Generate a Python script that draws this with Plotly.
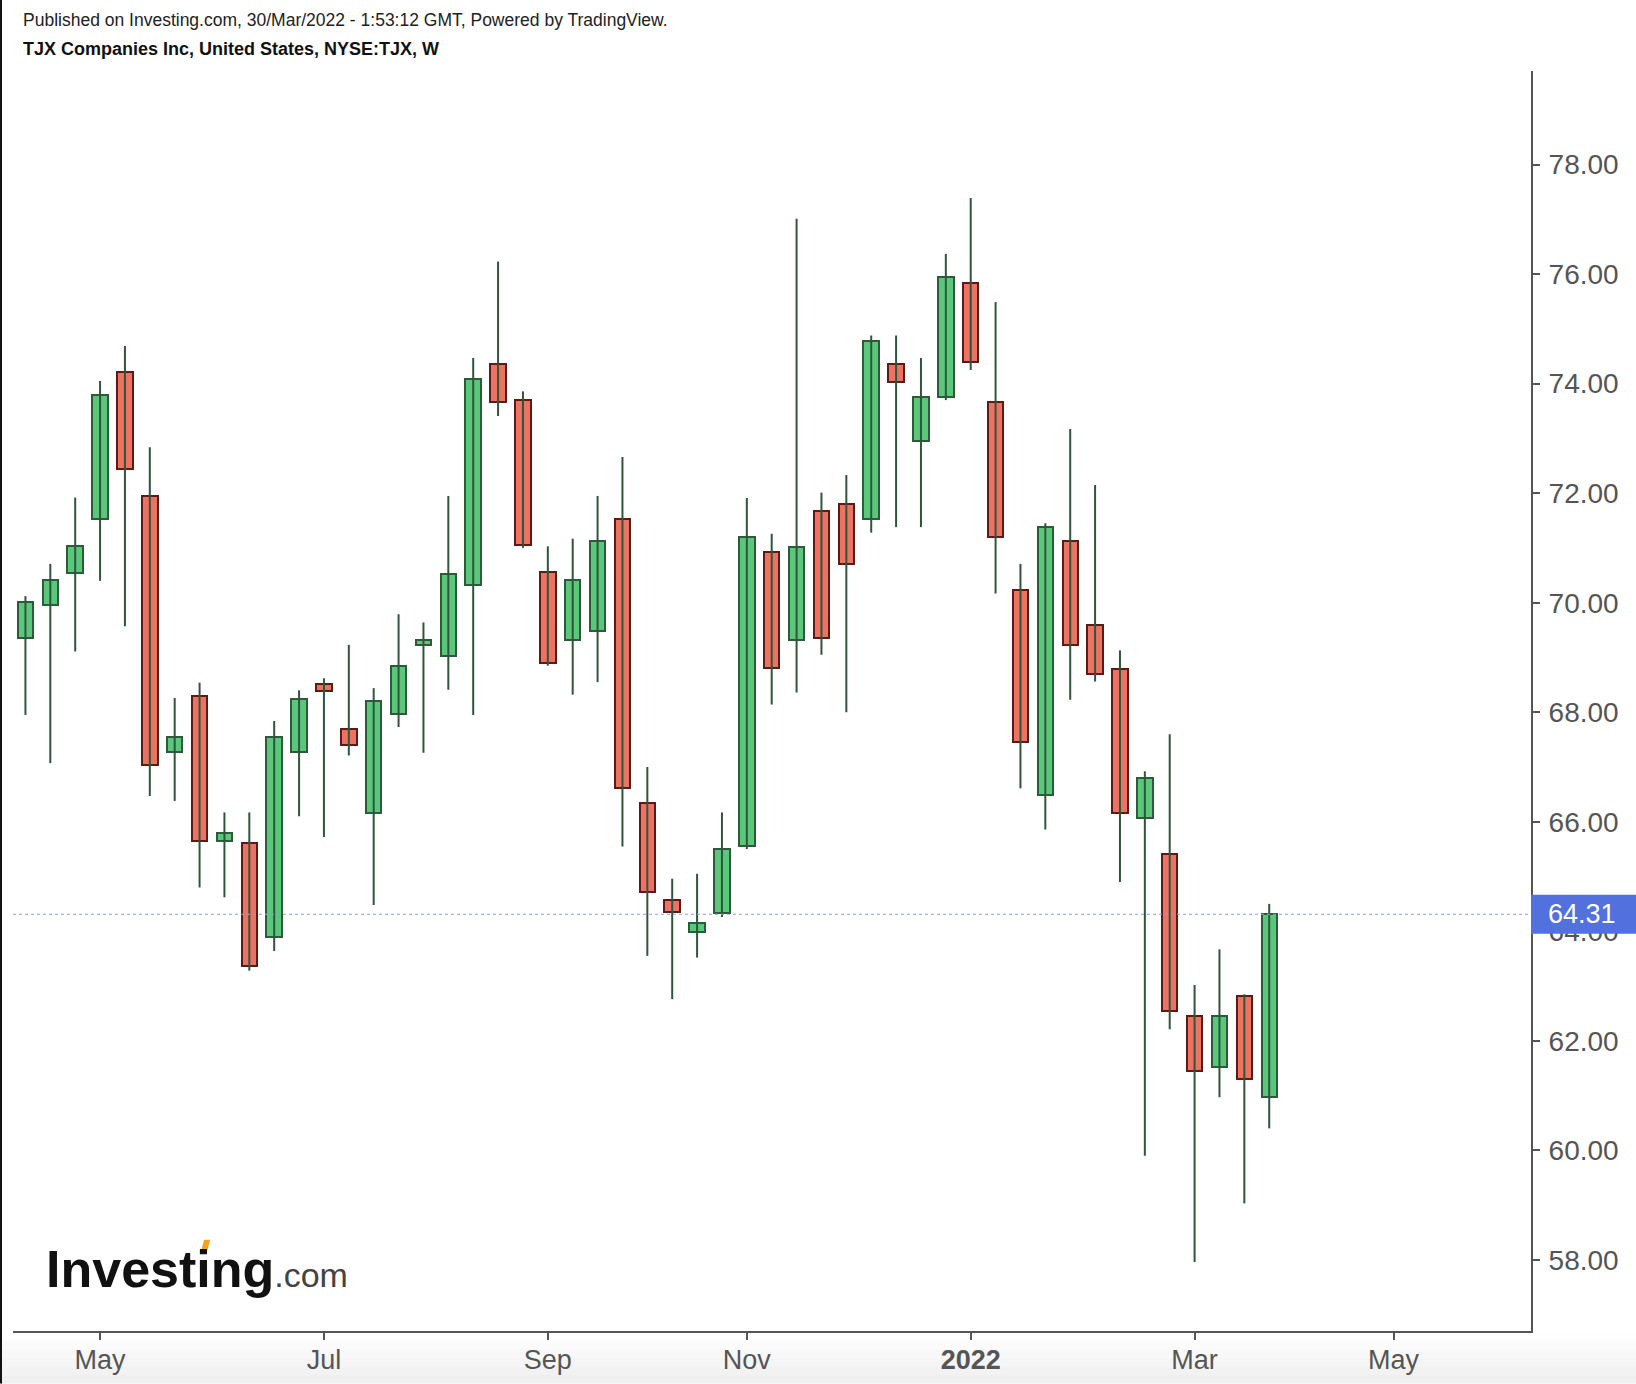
import pandas as pd
import plotly.graph_objects as go

# ---- data (weekly bars, NYSE:TJX) ----
week_start = pd.date_range("2021-04-12", periods=51, freq="7D")
open_ = [69.35, 69.95, 70.55, 71.53, 74.22, 71.95, 67.27, 68.30, 65.65, 65.61,
         63.89, 67.27, 68.52, 67.70, 66.16, 67.96, 69.22, 69.03, 70.32, 74.36,
         73.70, 70.56, 69.31, 69.48, 71.53, 66.34, 64.58, 63.99, 64.34, 65.55,
         70.93, 69.31, 71.67, 71.81, 71.53, 74.36, 72.96, 73.75, 75.84, 73.67,
         70.23, 66.48, 71.12, 69.59, 68.79, 66.07, 65.41, 62.45, 61.53, 62.82,
         60.98]
high = [70.12, 70.71, 71.92, 74.05, 74.69, 72.84, 68.26, 68.54, 66.17, 66.17,
        67.84, 68.40, 68.62, 69.23, 68.44, 69.79, 69.64, 71.95, 74.47, 76.23,
        73.86, 71.03, 71.17, 71.95, 72.66, 67.00, 64.96, 65.05, 66.17, 71.91,
        71.26, 77.01, 72.01, 72.33, 74.88, 74.88, 74.47, 76.37, 77.39, 75.49,
        70.71, 71.45, 73.17, 72.15, 69.13, 66.92, 67.60, 63.02, 63.67, 62.85,
        64.50]
low = [67.95, 67.07, 69.11, 70.40, 69.57, 66.47, 66.38, 64.80, 64.62, 63.28,
       63.64, 66.10, 65.72, 67.21, 64.48, 67.73, 67.26, 68.41, 67.95, 73.41,
       71.00, 68.85, 68.32, 68.55, 65.55, 63.55, 62.76, 63.52, 64.26, 65.50,
       68.14, 68.36, 69.05, 68.00, 71.28, 71.38, 71.38, 73.70, 74.25, 70.17,
       66.61, 65.86, 68.23, 68.56, 64.90, 59.90, 62.21, 57.96, 60.97, 59.03,
       60.40]
close = [70.01, 70.42, 71.03, 73.80, 72.45, 67.04, 67.55, 65.65, 65.79, 63.37,
         67.55, 68.24, 68.38, 67.40, 68.20, 68.85, 69.32, 70.52, 74.09, 73.66,
         71.06, 68.89, 70.42, 71.12, 66.61, 64.71, 64.35, 64.16, 65.51, 71.20,
         68.80, 71.02, 69.35, 70.70, 74.78, 74.03, 73.76, 75.94, 74.40, 71.20,
         67.46, 71.39, 69.22, 68.70, 66.16, 66.80, 62.55, 61.44, 62.45, 61.30,
         64.31]
last_price = 64.31

x_tick_dates = ["2021-05-03", "2021-07-05", "2021-09-06", "2021-11-01",
                "2022-01-03", "2022-03-07", "2022-05-02"]
x_tick_text = ["May", "Jul", "Sep", "Nov", "<b>2022</b>", "Mar", "May"]
y_tick_vals = [58, 60, 62, 64, 66, 68, 70, 72, 74, 76, 78]

# ---- styles ----
UP_FILL, UP_LINE = "#5bc77a", "#2d5a3a"
DN_FILL, DN_LINE = "#ec7264", "#5a1c17"
WICK = "#2f553b"
AXIS = "#555555"
FONT = "Liberation Sans, Arial, sans-serif"

# plot area in pixels
L, R, T, B = 13, 1530.6, 71, 1331.4
W_FIG, H_FIG = 1636, 1384


def px_x(px):
    return (px - L) / (R - L)


def px_y(py):
    return (B - py) / (B - T)


wx, wy = [], []
for d, h, lo in zip(week_start, high, low):
    wx += [d, d, None]
    wy += [lo, h, None]

is_up = [c >= o for o, c in zip(open_, close)]
base = [min(o, c) for o, c in zip(open_, close)]
size = [abs(c - o) for o, c in zip(open_, close)]

fig = go.Figure()
fig.add_trace(go.Scatter(x=wx, y=wy, mode="lines",
                         line=dict(color=WICK, width=2), hoverinfo="skip"))
fig.add_trace(go.Bar(
    x=week_start, y=size, base=base,
    width=0.62 * 7 * 86400000,
    marker=dict(color=[UP_FILL if u else DN_FILL for u in is_up],
                line=dict(color=[UP_LINE if u else DN_LINE for u in is_up], width=2)),
))

fig.update_layout(
    width=W_FIG, height=H_FIG,
    margin=dict(l=L, r=W_FIG - R, t=T, b=H_FIG - B, pad=0, autoexpand=False),
    paper_bgcolor="white", plot_bgcolor="white",
    showlegend=False, bargap=0,
    font=dict(family=FONT, color=AXIS),
)

fig.update_xaxes(
    type="date", automargin=False,
    range=["2021-04-08 12:00", "2022-06-09 16:00"],
    tickvals=x_tick_dates, ticktext=x_tick_text,
    showgrid=False, zeroline=False,
    showline=True, linecolor=AXIS, linewidth=2,
    ticks="outside", ticklen=7, tickwidth=1.5, tickcolor=AXIS,
    tickfont=dict(size=27, color=AXIS, family=FONT),
    ticklabelstandoff=-3,
)
fig.update_yaxes(
    side="right", automargin=False,
    range=[56.70, 79.71],
    tickvals=y_tick_vals, tickformat=".2f",
    showgrid=False, zeroline=False,
    showline=True, linecolor=AXIS, linewidth=2,
    ticks="outside", ticklen=7, tickwidth=1.5, tickcolor=AXIS,
    tickfont=dict(size=28, color=AXIS, family=FONT),
    ticklabelstandoff=3,
)

shapes = []
# light gradient footer under the time axis
grad = ["#fefefe", "#fbfbfb", "#f8f8f8", "#f5f5f5", "#f2f2f2", "#f0f0f0"]
band = (H_FIG - (B + 1)) / len(grad)
for i, col in enumerate(grad):
    shapes.append(dict(type="rect", xref="paper", yref="paper",
                       x0=px_x(0), x1=px_x(W_FIG),
                       y0=px_y(B + 1 + band * (i + 1)), y1=px_y(B + 1 + band * i),
                       fillcolor=col, line_width=0, layer="below"))
shapes += [
    # left dark border
    dict(type="line", xref="paper", yref="paper", x0=px_x(1), x1=px_x(1),
         y0=px_y(H_FIG), y1=px_y(0), line=dict(color="#111111", width=2)),
    # last price dotted line
    dict(type="line", xref="paper", yref="y", x0=0, x1=1, y0=last_price, y1=last_price,
         line=dict(color="#8c9df0", width=1, dash="dot"), layer="above"),
    # last price label box
    dict(type="rect", xref="paper", yref="y", x0=px_x(R), x1=px_x(W_FIG),
         y0=last_price - 0.355, y1=last_price + 0.355,
         fillcolor="#5271de", line_width=0, layer="above"),
]
# orange accent of the logo
ax0, ax1, ay0, ay1 = 201, 210, 1240, 1252
shapes.append(dict(type="path", xref="paper", yref="paper",
                   path=(f"M {px_x(ax0)} {px_y(ay1)} L {px_x(ax0 + 6)} {px_y(ay1)} "
                         f"L {px_x(ax1)} {px_y(ay0)} L {px_x(ax1 - 6)} {px_y(ay0)} Z"),
                   fillcolor="#f4a21b", line_width=0, layer="above"))
fig.update_layout(shapes=shapes)

annotations = [
    dict(text="Published on Investing.com, 30/Mar/2022 - 1:53:12 GMT, Powered by TradingView.",
         xref="paper", yref="paper", x=px_x(21), y=px_y(20), xanchor="left", yanchor="middle",
         showarrow=False, font=dict(size=17.5, color="#222222", family=FONT)),
    dict(text="<b>TJX Companies Inc, United States, NYSE:TJX, W</b>",
         xref="paper", yref="paper", x=px_x(21), y=px_y(49), xanchor="left", yanchor="middle",
         showarrow=False, font=dict(size=18, color="#111111", family=FONT)),
    dict(text=f"{last_price:.2f}", xref="paper", yref="y",
         x=px_x((R + W_FIG) / 2 - 2), y=last_price, xanchor="center", yanchor="middle",
         showarrow=False, font=dict(size=27, color="white", family=FONT)),
    dict(text="<b>Investing</b><span style='font-size:34px;color:#444444'>.com</span>",
         xref="paper", yref="paper", x=px_x(44), y=px_y(1269), xanchor="left", yanchor="middle",
         showarrow=False, font=dict(size=52, color="#111111", family=FONT)),
]
fig.update_layout(annotations=annotations)

fig.write_html("out.html")
